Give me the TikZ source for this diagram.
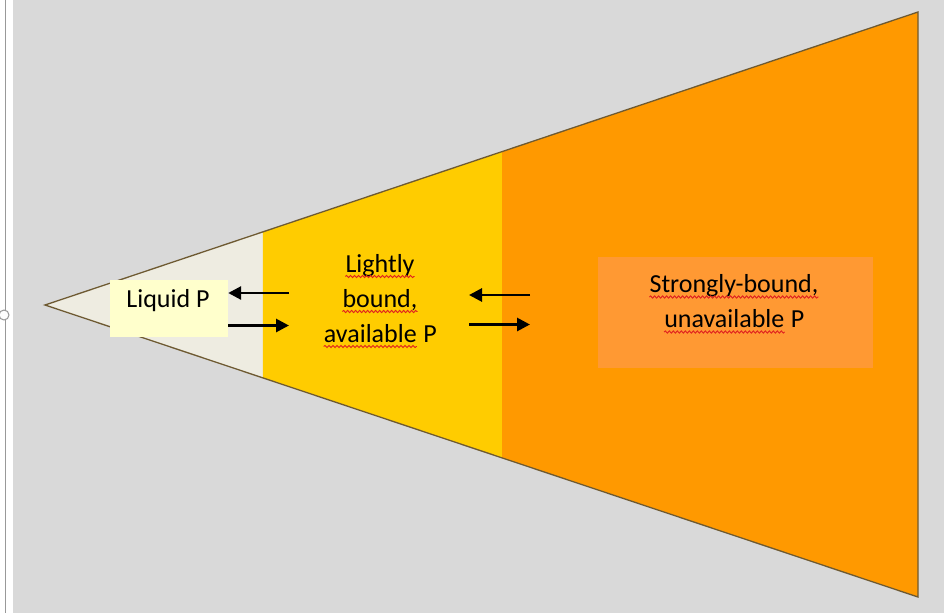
\documentclass[tikz,border=0pt]{standalone}
\usepackage{fontspec}
\setmainfont{Carlito}
\usetikzlibrary{positioning, arrows.meta, calc, decorations.pathmorphing}

\definecolor{bggray}{HTML}{D9D9D9}
\definecolor{edgebrown}{HTML}{6E5A32}
\definecolor{liquidfill}{HTML}{EEECE1}
\definecolor{lightfill}{HTML}{FFCC00}
\definecolor{strongfill}{HTML}{FF9900}
\definecolor{strongbox}{HTML}{FF9933}
\definecolor{liquidbox}{HTML}{FFFFCC}
\definecolor{spellred}{HTML}{E02020}

% red wavy spell-check underline
\newcommand{\spellerr}[1]{\tikz[baseline=(w.base)]{\node[inner sep=0pt, anchor=base, align=left] (w) {#1};
	\draw[spellred, line width=0.9pt, decorate, decoration={snake, amplitude=1.1pt, segment length=4pt}]
	([yshift=-4.5pt]w.base west) -- ([yshift=-4.5pt]w.base east);}}

\begin{document}
\begin{tikzpicture}[
		x=1pt, y=-1pt,
		>=Triangle,
		flow/.style={-{Triangle[length=13pt,width=13pt]}, line width=2.8pt, black},
		pool text/.style={font=\fontsize{26}{35}\selectfont, align=center, inner sep=0pt, text=black},
		pool box/.style={inner sep=0pt, draw=none}
		]
		
		% ==========================================
		% 1. PAGE AND CONE
		% ==========================================
		
		\useasboundingbox (0,0) rectangle (944,613);
		\fill[white] (0,0) rectangle (13,613);
		\fill[bggray] (13,0) rectangle (944,613);
		\draw[gray!80, line width=1.5pt] (5.5,0) -- (5.5,613);
		\node[circle, draw=gray!80, fill=white, line width=1pt, minimum size=10pt, inner sep=0pt] (handle) at (4,315) {};
		
		\coordinate (tip) at (45,305);
		\coordinate (tr) at (918,12);
		\coordinate (br) at (918,597);
		\coordinate (cut1t) at ($(tip)!0.2497!(tr)$);
		\coordinate (cut1b) at ($(tip)!0.2497!(br)$);
		\coordinate (cut2t) at ($(tip)!0.5235!(tr)$);
		\coordinate (cut2b) at ($(tip)!0.5235!(br)$);
		
		\fill[liquidfill] (tip) -- (cut1t) -- (cut1b) -- cycle;
		\fill[lightfill] (cut1t) -- (cut2t) -- (cut2b) -- (cut1b) -- cycle;
		\fill[strongfill] (cut2t) -- (tr) -- (br) -- (cut2b) -- cycle;
		\draw[edgebrown, line width=1.3pt, line join=miter] (tip) -- (tr) -- (br) -- cycle;
		
		% ==========================================
		% 2. POOLS
		% ==========================================
		
		\node[pool box, fill=liquidbox, minimum width=118pt, minimum height=57pt] (liquid) at (169,308.5) {};
		\node[pool text, anchor=base] (liquidtxt) at (168,307) {Liquid P};
		
		\node[pool text] (light) at (380,301) {\spellerr{Lightly}\\\spellerr{bound,}\\\spellerr{available} P};
		
		\node[pool box, fill=strongbox, minimum width=275pt, minimum height=111pt] (strong) at (735.5,312.5) {};
		\node[pool text] (strongtxt) at (734,304) {\spellerr{Strongly-bound,}\\\spellerr{unavailable} P};
		
		% ==========================================
		% 3. EXCHANGE ARROWS
		% ==========================================
		
		\coordinate (ex1a) at (289,293);
		\coordinate (ex1b) at (289,325.5);
		\coordinate (ex2a) at (469,295);
		\coordinate (ex2b) at (530,295);
		\coordinate (ex2c) at (469,324.5);
		\coordinate (ex2d) at (530,324.5);
		
		\draw[flow] (ex1a) -- (ex1a -| liquid.east);
		\draw[flow] (ex1b -| liquid.east) -- (ex1b);
		\draw[flow] (ex2b) -- (ex2a);
		\draw[flow] (ex2c) -- (ex2d);
		
	\end{tikzpicture}
\end{document}
